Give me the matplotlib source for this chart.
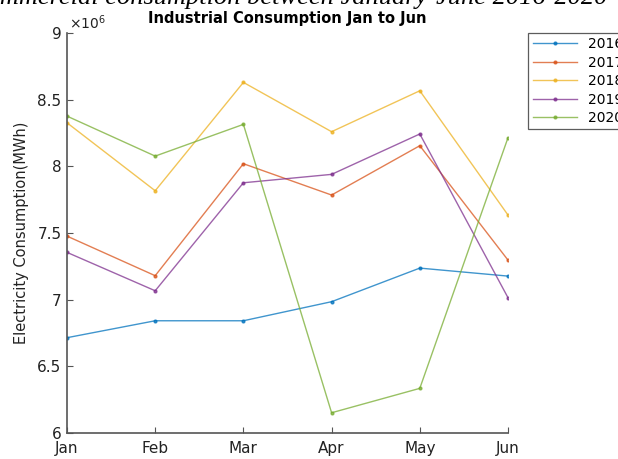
import numpy as np
import matplotlib.pyplot as plt

# monthly industrial consumption, MWh (x 1e6)
months = ["Jan", "Feb", "Mar", "Apr", "May", "Jun"]
years = ["2016", "2017", "2018", "2019", "2020"]
c2016 = [6.715, 6.842, 6.842, 6.985, 7.237, 7.177]
c2017 = [7.477, 7.180, 8.020, 7.785, 8.155, 7.297]
c2018 = [8.327, 7.817, 8.630, 8.260, 8.567, 7.635]
c2019 = [7.355, 7.067, 7.877, 7.940, 8.243, 7.015]
c2020 = [8.377, 8.077, 8.315, 6.152, 6.335, 8.215]

colors = ["#0072BD", "#D95319", "#EDB120", "#7E2F8E", "#77AC30"]   # matlab default order

fig = plt.figure(figsize=(6.18, 4.59), dpi=100)
ax = fig.add_axes([0.1084, 0.0566, 0.7136, 0.8714])

x = np.arange(len(months))
for yr, vals, c in zip(years, [c2016, c2017, c2018, c2019, c2020], colors):
    ax.plot(x, vals, color=c, lw=1.0, alpha=0.75, marker=".", ms=4, label=yr)

ax.set_xlim(0, 5)
ax.set_ylim(6, 9)
ax.set_xticks(x)
ax.set_xticklabels(months)
ax.set_yticks(np.arange(6, 9.01, 0.5))
ax.set_yticklabels(["%g" % v for v in np.arange(6, 9.01, 0.5)])
for s in ["top", "right"]:
    ax.spines[s].set_visible(False)
for s in ["left", "bottom"]:
    ax.spines[s].set_color("#555555")
    ax.spines[s].set_linewidth(1.2)
ax.tick_params(direction="in", length=4, color="#555555", labelsize=11,
               labelcolor="#222222", pad=4)
ax.tick_params(axis="x", pad=6)

ax.set_ylabel("Electricity Consumption(MWh)", fontsize=10.5, color="#222222", labelpad=6)
ax.set_title("Industrial Consumption Jan to Jun", fontsize=10.5, fontweight="bold", pad=7)
ax.text(0.005, 1.003, r"$\times10^{6}$", transform=ax.transAxes, fontsize=10,
        color="#222222", va="bottom")

leg = ax.legend(loc="upper left", bbox_to_anchor=(0.855, 0.928), bbox_transform=fig.transFigure,
                fontsize=10, frameon=True, fancybox=False, edgecolor="#333333",
                handlelength=3.2, borderaxespad=0, labelspacing=0.32, borderpad=0.3)
leg.get_frame().set_linewidth(0.9)

# caption from the page above, cut off by the frame
fig.text(-0.05, 0.991, "Commercial consumption between January-June 2016-2020",
         fontsize=19, family="Liberation Serif", style="italic", va="baseline", ha="left")

fig.savefig("out.png", dpi=100)
